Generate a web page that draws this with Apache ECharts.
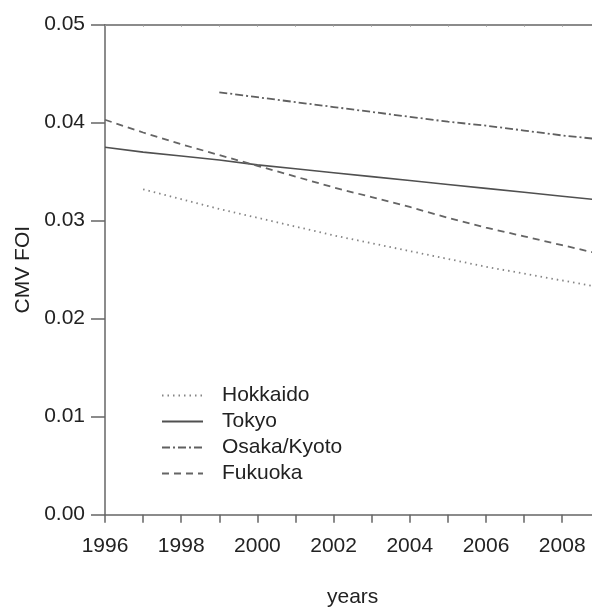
<!DOCTYPE html>
<html>
<head>
<meta charset="utf-8">
<script src="https://cdn.jsdelivr.net/npm/echarts@6/dist/echarts.min.js"></script>
<style>html,body{margin:0;padding:0;background:#fff}#c{width:592px;height:609px}</style>
</head>
<body>
<div id="c"></div>
<script>
const years = [1996,1997,1998,1999,2000,2001,2002,2003,2004,2005,2006,2007,2008,2009];
const hokkaidoYears = [1997,1998,1999,2000,2001,2002,2003,2004,2005,2006,2007,2008,2009];
const hokkaido = [0.0332,0.0322,0.0312,0.0303,0.0294,0.0285,0.0277,0.0269,0.0261,0.0253,0.0246,0.0239,0.0232];
const tokyoYears = years;
const tokyo = [0.0375,0.0370,0.0366,0.0362,0.0357,0.0353,0.0349,0.0345,0.0341,0.0337,0.0333,0.0329,0.0325,0.0321];
const osakaYears = [1999,2000,2001,2002,2003,2004,2005,2006,2007,2008,2009];
const osaka = [0.0431,0.0426,0.0421,0.0416,0.0411,0.0406,0.0401,0.0397,0.0392,0.0387,0.0383];
const fukuokaYears = years;
const fukuoka = [0.0403,0.0390,0.0378,0.0367,0.0356,0.0345,0.0334,0.0324,0.0314,0.0303,0.0293,0.0284,0.0275,0.0266];
const seriesNames = ['Hokkaido','Tokyo','Osaka/Kyoto','Fukuoka'];
const yTicks = [0,0.01,0.02,0.03,0.04,0.05];

const pair = (xs, ys) => xs.map((x, i) => [x, ys[i]]);
const font = 'Liberation Sans, Arial, sans-serif';
const axisColor = '#666';
const textColor = '#222';

const chart = echarts.init(document.getElementById('c'), null, {renderer: 'canvas'});
chart.setOption({
  backgroundColor: '#fff',
  animation: false,
  grid: {left: 105, right: -8.3, top: 24.7, bottom: 94.3, containLabel: false, outerBoundsMode: 'none'},
  legend: {
    orient: 'vertical', left: 161, top: 385, padding: 0,
    itemWidth: 41, itemHeight: 14, itemGap: 5,
    data: seriesNames,
    itemStyle: {opacity: 0, color: 'rgba(0,0,0,0)', borderWidth: 0},
    textStyle: {fontFamily: font, fontSize: 21, color: textColor, lineHeight: 20, padding: [0,0,0,14]}
  },
  xAxis: [{
    type: 'value', min: 1996, max: 2009, interval: 1,
    name: 'years', nameLocation: 'middle', nameGap: 72,
    nameTextStyle: {fontFamily: font, fontSize: 21, color: textColor},
    axisLine: {show: true, lineStyle: {color: axisColor, width: 1.5}},
    axisTick: {show: true, length: 8, lineStyle: {color: axisColor, width: 1.5}},
    axisLabel: {margin: 21, fontFamily: font, fontSize: 21, color: textColor, showMaxLabel: false,
      formatter: v => (v % 2 === 0 ? String(v) : '')},
    splitLine: {show: false}
  }, {
    type: 'value', position: 'top', min: 1996, max: 2009, interval: 1,
    axisLine: {show: true, onZero: false, lineStyle: {color: axisColor, width: 1.5}},
    axisTick: {show: true, inside: true, length: 2, lineStyle: {color: '#999', width: 1}},
    axisLabel: {show: false}, splitLine: {show: false}
  }],
  yAxis: {
    type: 'value', min: 0, max: 0.05, interval: 0.01,
    name: 'CMV FOI', nameLocation: 'middle', nameGap: 66,
    nameTextStyle: {fontFamily: font, fontSize: 21, color: textColor},
    axisLine: {show: true, lineStyle: {color: axisColor, width: 1.5}},
    axisTick: {show: true, length: 14, lineStyle: {color: axisColor, width: 1.5}},
    axisLabel: {margin: 20, fontFamily: font, fontSize: 21, color: textColor,
      formatter: v => v.toFixed(2)},
    splitLine: {show: false}
  },
  series: [
    {name: seriesNames[0], type: 'line', symbol: 'none', data: pair(hokkaidoYears, hokkaido),
     lineStyle: {color: '#858585', width: 1.8, type: [1.5, 4]}, itemStyle: {color: '#858585'}},
    {name: seriesNames[1], type: 'line', symbol: 'none', data: pair(tokyoYears, tokyo),
     lineStyle: {color: '#505050', width: 1.6, type: 'solid'}, itemStyle: {color: '#505050'}},
    {name: seriesNames[2], type: 'line', symbol: 'none', data: pair(osakaYears, osaka),
     lineStyle: {color: '#606060', width: 1.8, type: [8, 3, 2, 3]}, itemStyle: {color: '#606060'}},
    {name: seriesNames[3], type: 'line', symbol: 'none', data: pair(fukuokaYears, fukuoka),
     lineStyle: {color: '#656565', width: 1.8, type: [7, 5]}, itemStyle: {color: '#656565'}}
  ]
});
</script>
</body>
</html>
